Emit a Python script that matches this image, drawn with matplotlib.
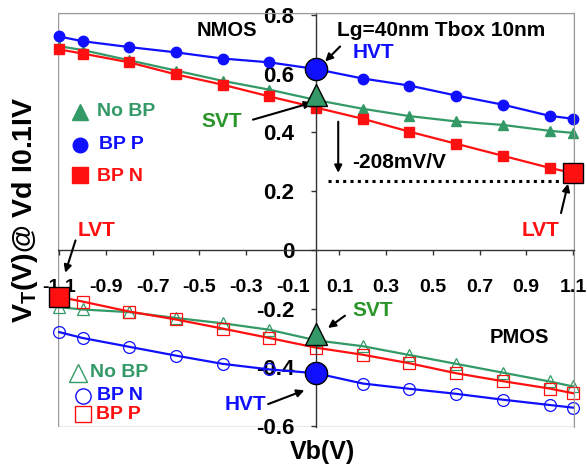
import matplotlib
matplotlib.use("Agg")
import matplotlib.pyplot as plt
from matplotlib.patches import Rectangle

plt.rcParams["font.family"] = ["Liberation Sans", "DejaVu Sans"]
plt.rcParams["font.weight"] = "bold"
plt.rcParams["mathtext.fontset"] = "custom"
plt.rcParams["mathtext.rm"] = "Liberation Sans:bold"
plt.rcParams["mathtext.bf"] = "Liberation Sans:bold"

BLUE = "#1010FF"
RED = "#FF1010"
GREEN = "#339966"
SVTG = "#2A962A"
AXC = "#333333"

# --- data (Vb in V, Vt in V) -------------------------------------------------
vb = [-1.1, -1.0, -0.8, -0.6, -0.4, -0.2, 0.0, 0.2, 0.4, 0.6, 0.8, 1.0, 1.1]

n_nobp = [0.693, 0.680, 0.645, 0.610, 0.575, 0.545, 0.510, 0.480, 0.455, 0.437, 0.425, 0.405, 0.398]
n_bpp = [0.726, 0.710, 0.690, 0.672, 0.651, 0.638, 0.615, 0.583, 0.559, 0.525, 0.494, 0.456, 0.446]
n_bpn = [0.682, 0.668, 0.638, 0.597, 0.562, 0.522, 0.484, 0.446, 0.402, 0.361, 0.320, 0.279, 0.261]

p_nobp = [-0.195, -0.203, -0.212, -0.232, -0.250, -0.272, -0.308, -0.328, -0.358, -0.388, -0.418, -0.448, -0.465]
p_bpn = [-0.280, -0.300, -0.330, -0.360, -0.388, -0.407, -0.420, -0.455, -0.473, -0.490, -0.510, -0.528, -0.537]
p_bpp = [-0.160, -0.176, -0.210, -0.237, -0.268, -0.300, -0.333, -0.357, -0.386, -0.420, -0.447, -0.472, -0.488]

# highlighted devices
hvt_n = (0.0, 0.617)
svt_n = (0.0, 0.528)
lvt_n = (1.1, 0.261)
lvt_p = (-1.1, -0.159)
svt_p = (0.0, -0.285)
hvt_p = (0.0, -0.420)

xticks = [-1.1, -0.9, -0.7, -0.5, -0.3, -0.1, 0.1, 0.3, 0.5, 0.7, 0.9, 1.1]
yticks = [0.8, 0.6, 0.4, 0.2, 0.0, -0.2, -0.4, -0.6]
ylabels = ["0.8", "0.6", "0.4", "0.2", "0", "-0.2", "-0.4", "-0.6"]

fig = plt.figure(figsize=(5.87, 4.72), dpi=100)
ax = fig.add_axes([0.0988, 0.0953, 0.8792, 0.8772])
ax.set_xlim(-1.105, 1.105)
ax.set_ylim(-0.603, 0.806)

# centred axes + grey frame
ax.spines["left"].set_position(("data", 0))
ax.spines["bottom"].set_position(("data", 0))
for s in ("left", "bottom"):
    ax.spines[s].set_color(AXC)
    ax.spines[s].set_linewidth(1.0)
for s in ("top", "right"):
    ax.spines[s].set_color("#9A9A9A")
ax.add_patch(Rectangle((0, 0), 1, 1, transform=ax.transAxes, fill=False,
                       edgecolor="#9A9A9A", lw=1.0, zorder=0))

ax.set_xticks(xticks)
ax.set_xticklabels([f"{t:g}" for t in xticks])
ax.set_yticks(yticks)
ax.set_yticklabels(ylabels)
ax.tick_params(axis="x", direction="out", length=3.6, width=1, color=AXC,
               pad=17.5, labelsize=14)
ax.tick_params(axis="y", direction="out", length=3.6, width=1, color=AXC,
               pad=12, labelsize=16)

# --- NMOS curves ---------------------------------------------------------------
kw = dict(lw=1.6, ms=7.5, clip_on=False)
ax.plot(vb, n_nobp, "-^", color=GREEN, **kw)
ax.plot(vb, n_bpp, "-o", color=BLUE, **kw)
ax.plot(vb, n_bpn, "-s", color=RED, **kw)

# --- PMOS curves ---------------------------------------------------------------
okw = dict(lw=1.6, ms=8.5, mfc="none", mew=0.9, clip_on=False)
ax.plot(vb, p_nobp, "-^", color=GREEN, **okw)
ax.plot(vb, p_bpp, "-s", color=RED, **okw)
ax.plot(vb, p_bpn, "-o", color=BLUE, **okw)

# --- highlighted devices -------------------------------------------------------
hk = dict(mec="black", mew=1.0, clip_on=False, zorder=5, ls="none")
ax.plot(*hvt_n, "o", mfc=BLUE, ms=16, **hk)
ax.plot(*svt_n, "^", mfc=GREEN, ms=16, **hk)
ax.plot(*lvt_n, "s", mfc=RED, ms=14, **hk)
ax.plot(*lvt_p, "s", mfc=RED, ms=14, **hk)
ax.plot(*svt_p, "^", mfc=GREEN, ms=16, **hk)
ax.plot(*hvt_p, "o", mfc=BLUE, ms=16, **hk)


def arrow(x0, y0, x1, y1):
    ax.annotate("", xy=(x1, y1), xytext=(x0, y0),
                arrowprops=dict(arrowstyle="-|>", color="black", lw=1.5,
                                shrinkA=0, shrinkB=0, mutation_scale=11))


# --- NMOS annotations ----------------------------------------------------------
ax.text(-0.51, 0.745, "NMOS", fontsize=14.5, ha="left", va="center")
ax.text(0.09, 0.745, "Lg=40nm Tbox 10nm", fontsize=15, ha="left", va="center")
ax.text(0.155, 0.672, "HVT", color=BLUE, fontsize=15, ha="left", va="center")
arrow(0.103, 0.692, 0.039, 0.641)
ax.text(-0.49, 0.436, "SVT", color=SVTG, fontsize=15, ha="left", va="center")
arrow(-0.27, 0.443, -0.017, 0.501)
ax.text(0.96, 0.067, "LVT", color=RED, fontsize=15, ha="center", va="center")
arrow(1.049, 0.125, 1.079, 0.225)
arrow(0.095, 0.436, 0.095, 0.262)
ax.plot([0.05, 1.1], [0.234, 0.234], ls=(0, (1, 1.4)), color="black", lw=2.2)
ax.text(0.155, 0.296, "-208mV/V", fontsize=15, ha="left", va="center")

# NMOS legend
ax.plot(-1.01, 0.470, "^", color=GREEN, ms=12, clip_on=False)
ax.text(-0.937, 0.470, "No BP", color=GREEN, fontsize=14, ha="left", va="center")
ax.plot(-1.01, 0.357, "o", color=BLUE, ms=10.5, clip_on=False)
ax.text(-0.93, 0.357, "BP P", color=BLUE, fontsize=14, ha="left", va="center")
ax.plot(-1.01, 0.255, "s", color=RED, ms=11, clip_on=False)
ax.text(-0.937, 0.250, "BP N", color=RED, fontsize=14, ha="left", va="center")

# --- PMOS annotations ----------------------------------------------------------
ax.text(-1.02, 0.067, "LVT", color=RED, fontsize=15, ha="left", va="center")
arrow(-1.03, 0.032, -1.074, -0.078)
ax.text(0.154, -0.207, "SVT", color=SVTG, fontsize=15, ha="left", va="center")
arrow(0.124, -0.224, 0.051, -0.266)
ax.text(-0.304, -0.525, "HVT", color=BLUE, fontsize=15, ha="center", va="center")
arrow(-0.205, -0.525, -0.05, -0.478)
ax.text(0.745, -0.300, "PMOS", fontsize=14.5, ha="left", va="center")

# PMOS legend
ax.plot(-1.019, -0.419, "^", color=GREEN, mfc="none", ms=13, mew=1.0, clip_on=False)
ax.text(-0.967, -0.419, "No BP", color=GREEN, fontsize=14, ha="left", va="center")
ax.plot(-0.997, -0.497, "o", color=BLUE, mfc="none", ms=11, mew=1.0, clip_on=False)
ax.text(-0.937, -0.497, "BP N", color=BLUE, fontsize=14, ha="left", va="center")
ax.plot(-1.0, -0.559, "s", color=RED, mfc="none", ms=11, mew=1.0, clip_on=False)
ax.text(-0.942, -0.559, "BP P", color=RED, fontsize=14, ha="left", va="center")

# axis titles
fig.text(0.043, 0.555, r"V$_\mathrm{T}$(V)@ Vd I0.1IV", rotation=90,
         fontsize=20.5, ha="center", va="center")
fig.text(0.55, 0.042, "Vb(V)", fontsize=18, ha="center", va="center")

fig.savefig("out.png", dpi=100, facecolor="white")
